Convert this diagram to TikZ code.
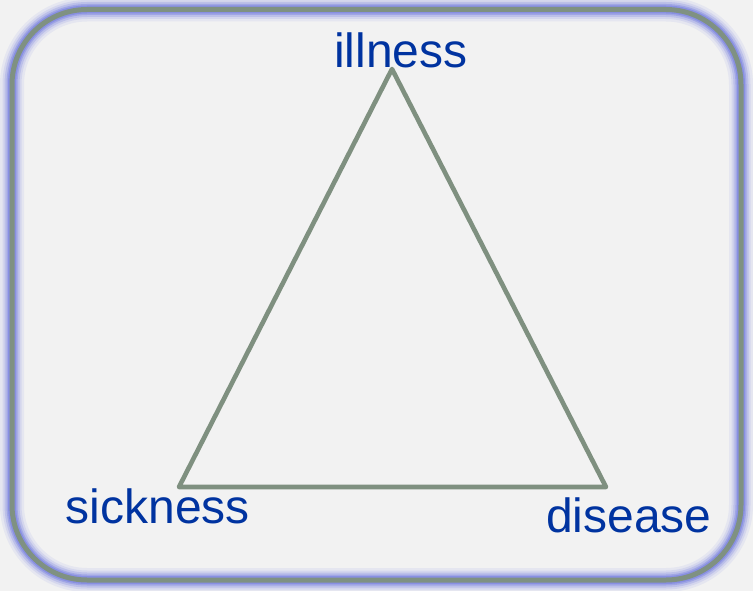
\documentclass[tikz,border=0pt]{standalone}
\usepackage{fontspec}
\setmainfont{Liberation Sans}
\definecolor{bgc}{HTML}{F2F2F2}
\definecolor{framec}{HTML}{7F9182}
\definecolor{glowc}{HTML}{7880E0}
\definecolor{labelc}{HTML}{0033A0}
\definecolor{edgec}{HTML}{7F9080}
\tikzset{
  lbl/.style={inner sep=0pt, text=labelc, font=\fontsize{48}{56}\selectfont},
  edge/.style={draw=edgec, line width=4.6pt, line join=round},
  framebox/.style={rounded corners=75pt}
}
\begin{document}
\begin{tikzpicture}[x=1pt,y=-1pt]
\fill[bgc] (0,0) rectangle (753,591);
\useasboundingbox (0,0) rectangle (753,591);
% glow layers
\foreach \w/\o in {24/0.10,19/0.15,15/0.25,11/0.4,8/0.6}{
  \draw[framebox, glowc, line width=\w pt, opacity=\o] (12,9.5) rectangle (741,580);
}
\draw[framebox, framec, line width=5pt] (12,9.5) rectangle (741,580);
% triangle
\coordinate (top) at (392,69);
\coordinate (bl) at (179,487);
\coordinate (br) at (606,487);
\draw[edge] (top) -- (bl) -- (br) -- cycle;
% labels
\node[lbl, anchor=base west] (illness) at (334,68) {illness};
\node[lbl, anchor=base west] (sickness) at (65.5,523) {sickness};
\node[lbl, anchor=base west] (disease) at (546,532) {disease};
\end{tikzpicture}
\end{document}
